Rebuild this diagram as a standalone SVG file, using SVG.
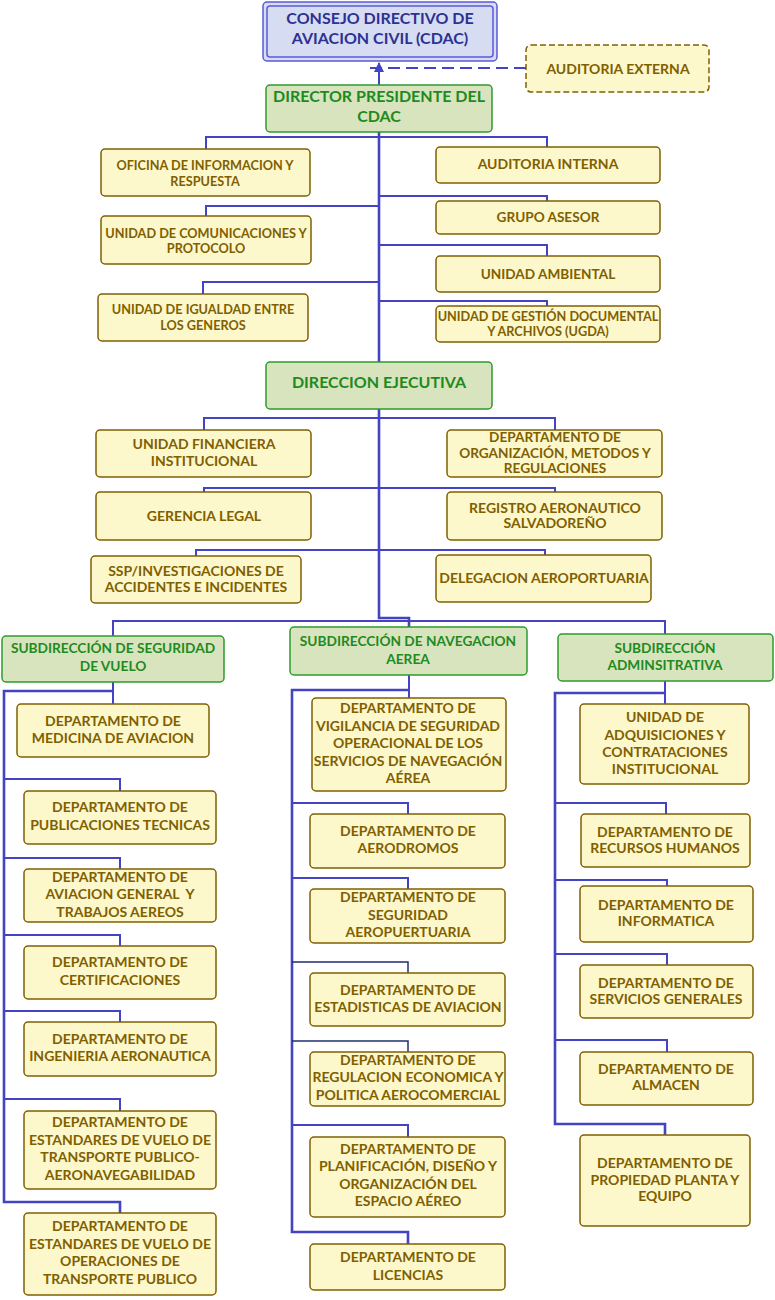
<svg xmlns="http://www.w3.org/2000/svg" width="775" height="1300" viewBox="0 0 775 1300">
<style>
text{font-family:Lato,"Liberation Sans",sans-serif;font-weight:bold;text-anchor:middle}
.y rect{fill:#fdf7cc;stroke:#7f6000;stroke-width:1.5}
.y text{fill:#7f6000;font-size:14px}
.y text.s{font-size:12.7px}
.y text.m{font-size:13.6px}
.g rect{fill:#d8e4bd;stroke:#2e9a2e;stroke-width:1.5}
.g text{fill:#1f8a1f;font-size:13.7px}
.gb text{font-size:16px}
.b rect{fill:#d6ddf2;stroke:#5a5ad6;stroke-width:1.5}
.b text{fill:#2e3192;font-size:16px}
.c path{fill:none;stroke:#4343c4;stroke-width:2}
.c .t{stroke-width:2.6}
.c .d{stroke:#1f2f6f;stroke-width:1.5}
</style>
<defs>
<marker id="ar" viewBox="0 0 10 10" refX="9" refY="5" markerWidth="5" markerHeight="5" orient="auto"><path d="M0,0 L10,5 L0,10 z" fill="#4343c4"/></marker>
</defs>
<g class="c" id="connectors">
<path d="M379,85 V63" marker-end="url(#ar)"/>
<path d="M526,68 H370" stroke-dasharray="12,6"/>
<path class="t" d="M379,132 V362"/>
<path d="M206,149 V137 H547 V147"/>
<path d="M206,216 V206 H379"/>
<path d="M379,196 H547 V201"/>
<path d="M379,245 H547 V256"/>
<path d="M203,294 V282 H379"/>
<path d="M379,301 H547 V306"/>
<path class="t" d="M379,409 V618 H409 V627"/>
<path d="M204,430 V418 H555 V430"/>
<path d="M204,492 V488 H555 V492"/>
<path d="M196,556 V550 H545 V555"/>
<path d="M113,636 V621 H665 V634"/>
<path d="M113,682 V704"/>
<path class="t" d="M113,691 H4 V1202 H120 V1213"/>
<path d="M4,779 H120 V791"/>
<path d="M4,858 H120 V869"/>
<path d="M4,935 H120 V946"/>
<path d="M4,1011 H120 V1022"/>
<path d="M4,1099 H120 V1111"/>
<path d="M409,675 V698"/>
<path class="t" d="M409,690 H292 V1232 H408 V1244"/>
<path d="M292,803 H408 V814"/>
<path d="M292,878 H408 V889"/>
<path class="d" d="M292,962 H408 V973"/>
<path class="d" d="M292,1041 H408 V1052"/>
<path d="M292,1125 H408 V1137"/>
<path d="M665,681 V704"/>
<path class="t" d="M665,693 H555 V1124 H665 V1135"/>
<path d="M555,803 H666 V814"/>
<path d="M555,880 H667 V886"/>
<path d="M555,954 H667 V965"/>
<path d="M555,1040 H667 V1052"/>
</g>
<g id="consejo" class="b"><rect x="263" y="2" width="234" height="59" rx="4"/><rect x="267" y="6" width="226" height="51" rx="3" style="fill:none"/><text x="380" y="23.5">CONSEJO DIRECTIVO DE</text><text x="380" y="43.5">AVIACION CIVIL (CDAC)</text></g>
<g id="auditoria-externa" class="y"><rect x="526" y="45" width="183" height="47" rx="5" style="stroke-dasharray:6,3"/><text x="618" y="74">AUDITORIA EXTERNA</text></g>
<g id="director" class="g gb"><rect x="266" y="85" width="226" height="47" rx="4"/><text x="379" y="102">DIRECTOR PRESIDENTE DEL</text><text x="379" y="122">CDAC</text></g>
<g id="oficina" class="y"><rect x="101" y="149" width="209" height="47" rx="4"/><text class="s" x="205" y="169.5">OFICINA DE INFORMACION Y</text><text class="s" x="205" y="185.5">RESPUESTA</text></g>
<g id="comunicaciones" class="y"><rect x="101" y="216" width="210" height="48" rx="4"/><text class="s" x="206" y="237.5">UNIDAD DE COMUNICACIONES Y</text><text class="s" x="206" y="252.5">PROTOCOLO</text></g>
<g id="igualdad" class="y"><rect x="98" y="294" width="210" height="47" rx="4"/><text class="s" x="203" y="313.5">UNIDAD DE IGUALDAD ENTRE</text><text class="s" x="203" y="329.5">LOS GENEROS</text></g>
<g id="auditoria-interna" class="y"><rect x="436" y="147" width="224" height="36" rx="4"/><text x="548" y="169">AUDITORIA INTERNA</text></g>
<g id="grupo-asesor" class="y"><rect x="436" y="201" width="224" height="33" rx="4"/><text class="m" x="548" y="222">GRUPO ASESOR</text></g>
<g id="ambiental" class="y"><rect x="436" y="256" width="224" height="36" rx="4"/><text class="m" x="548" y="279">UNIDAD AMBIENTAL</text></g>
<g id="ugda" class="y"><rect x="436" y="306" width="224" height="36" rx="4"/><text class="s" x="548" y="320.5">UNIDAD DE GESTIÓN DOCUMENTAL</text><text class="s" x="548" y="335.5">Y ARCHIVOS (UGDA)</text></g>
<g id="direccion-ejecutiva" class="g gb"><rect x="266" y="362" width="226" height="47" rx="4"/><text x="379" y="388">DIRECCION EJECUTIVA</text></g>
<g id="financiera" class="y"><rect x="96" y="430" width="215" height="47" rx="4"/><text x="204" y="449">UNIDAD FINANCIERA</text><text x="204" y="466">INSTITUCIONAL</text></g>
<g id="organizacion" class="y"><rect x="447" y="430" width="215" height="47" rx="4"/><text class="m" x="555" y="441.5">DEPARTAMENTO DE</text><text class="m" x="555" y="457.5">ORGANIZACIÓN, METODOS Y</text><text class="m" x="555" y="473">REGULACIONES</text></g>
<g id="gerencia-legal" class="y"><rect x="96" y="492" width="215" height="48" rx="4"/><text x="204" y="521">GERENCIA LEGAL</text></g>
<g id="registro" class="y"><rect x="447" y="492" width="215" height="48" rx="4"/><text x="555" y="513">REGISTRO AERONAUTICO</text><text x="555" y="528">SALVADOREÑO</text></g>
<g id="ssp" class="y"><rect x="91" y="556" width="210" height="47" rx="4"/><text x="196" y="576">SSP/INVESTIGACIONES DE</text><text x="196" y="592">ACCIDENTES E INCIDENTES</text></g>
<g id="delegacion" class="y"><rect x="436" y="555" width="215" height="47" rx="4"/><text x="544" y="583">DELEGACION AEROPORTUARIA</text></g>
<g id="sub-seguridad" class="g"><rect x="2" y="636" width="222" height="46" rx="4"/><text x="113" y="653">SUBDIRECCIÓN DE SEGURIDAD</text><text x="113" y="671">DE VUELO</text></g>
<g id="sub-navegacion" class="g"><rect x="290" y="627" width="237" height="48" rx="4"/><text x="408" y="646">SUBDIRECCIÓN DE NAVEGACION</text><text x="408" y="664">AEREA</text></g>
<g id="sub-administrativa" class="g"><rect x="558" y="634" width="215" height="47" rx="4"/><text x="665" y="653">SUBDIRECCIÓN</text><text x="665" y="670">ADMINSITRATIVA</text></g>
<g id="medicina" class="y"><rect x="17" y="704" width="192" height="53" rx="4"/><text x="113" y="726">DEPARTAMENTO DE</text><text x="113" y="743">MEDICINA DE AVIACION</text></g>
<g id="publicaciones" class="y"><rect x="24" y="791" width="192" height="53" rx="4"/><text x="120" y="812">DEPARTAMENTO DE</text><text x="120" y="830">PUBLICACIONES TECNICAS</text></g>
<g id="aviacion-general" class="y"><rect x="24" y="869" width="192" height="53" rx="4"/><text x="120" y="882">DEPARTAMENTO DE</text><text x="120" y="899" xml:space="preserve">AVIACION GENERAL  Y</text><text x="120" y="917">TRABAJOS AEREOS</text></g>
<g id="certificaciones" class="y"><rect x="24" y="946" width="192" height="53" rx="4"/><text x="120" y="967">DEPARTAMENTO DE</text><text x="120" y="985">CERTIFICACIONES</text></g>
<g id="ingenieria" class="y"><rect x="24" y="1022" width="192" height="54" rx="4"/><text x="120" y="1044">DEPARTAMENTO DE</text><text x="120" y="1061">INGENIERIA AERONAUTICA</text></g>
<g id="estandares-aero" class="y"><rect x="24" y="1111" width="192" height="78" rx="4"/><text x="120" y="1127">DEPARTAMENTO DE</text><text x="120" y="1145">ESTANDARES DE VUELO DE</text><text x="120" y="1162">TRANSPORTE PUBLICO-</text><text x="120" y="1180">AERONAVEGABILIDAD</text></g>
<g id="estandares-ops" class="y"><rect x="24" y="1213" width="192" height="82" rx="4"/><text x="120" y="1231">DEPARTAMENTO DE</text><text x="120" y="1249">ESTANDARES DE VUELO DE</text><text x="120" y="1266">OPERACIONES DE</text><text x="120" y="1284">TRANSPORTE PUBLICO</text></g>
<g id="vigilancia" class="y"><rect x="312" y="698" width="194" height="93" rx="4"/><text x="408" y="713">DEPARTAMENTO DE</text><text x="408" y="731">VIGILANCIA DE SEGURIDAD</text><text x="408" y="748">OPERACIONAL DE LOS</text><text x="408" y="766">SERVICIOS DE NAVEGACIÓN</text><text x="408" y="783">AÉREA</text></g>
<g id="aerodromos" class="y"><rect x="310" y="814" width="195" height="54" rx="4"/><text x="408" y="836">DEPARTAMENTO DE</text><text x="408" y="853">AERODROMOS</text></g>
<g id="seguridad-aeroportuaria" class="y"><rect x="310" y="889" width="195" height="54" rx="4"/><text x="408" y="902">DEPARTAMENTO DE</text><text x="408" y="920">SEGURIDAD</text><text x="408" y="937">AEROPUERTUARIA</text></g>
<g id="estadisticas" class="y"><rect x="310" y="973" width="195" height="53" rx="4"/><text x="408" y="995">DEPARTAMENTO DE</text><text x="408" y="1012">ESTADISTICAS DE AVIACION</text></g>
<g id="regulacion" class="y"><rect x="310" y="1052" width="195" height="54" rx="4"/><text x="408" y="1065">DEPARTAMENTO DE</text><text x="408" y="1082">REGULACION ECONOMICA Y</text><text x="408" y="1100">POLITICA AEROCOMERCIAL</text></g>
<g id="planificacion" class="y"><rect x="310" y="1137" width="195" height="80" rx="4"/><text x="408" y="1154">DEPARTAMENTO DE</text><text x="408" y="1171">PLANIFICACIÓN, DISEÑO Y</text><text x="408" y="1189">ORGANIZACIÓN DEL</text><text x="408" y="1206">ESPACIO AÉREO</text></g>
<g id="licencias" class="y"><rect x="310" y="1244" width="195" height="46" rx="4"/><text x="408" y="1262">DEPARTAMENTO DE</text><text x="408" y="1280">LICENCIAS</text></g>
<g id="adquisiciones" class="y"><rect x="580" y="704" width="169" height="80" rx="4"/><text x="665" y="722">UNIDAD DE</text><text x="665" y="740">ADQUISICIONES Y</text><text x="665" y="757">CONTRATACIONES</text><text x="665" y="774">INSTITUCIONAL</text></g>
<g id="recursos-humanos" class="y"><rect x="581" y="814" width="169" height="53" rx="4"/><text x="665" y="837">DEPARTAMENTO DE</text><text x="665" y="853">RECURSOS HUMANOS</text></g>
<g id="informatica" class="y"><rect x="580" y="886" width="173" height="56" rx="4"/><text x="666" y="910">DEPARTAMENTO DE</text><text x="666" y="926">INFORMATICA</text></g>
<g id="servicios-generales" class="y"><rect x="580" y="965" width="173" height="53" rx="4"/><text x="666" y="988">DEPARTAMENTO DE</text><text x="666" y="1004">SERVICIOS GENERALES</text></g>
<g id="almacen" class="y"><rect x="580" y="1052" width="173" height="53" rx="4"/><text x="666" y="1074">DEPARTAMENTO DE</text><text x="666" y="1090">ALMACEN</text></g>
<g id="propiedad" class="y"><rect x="580" y="1135" width="170" height="91" rx="4"/><text x="665" y="1168">DEPARTAMENTO DE</text><text x="665" y="1185">PROPIEDAD PLANTA Y</text><text x="665" y="1201">EQUIPO</text></g>
</svg>
